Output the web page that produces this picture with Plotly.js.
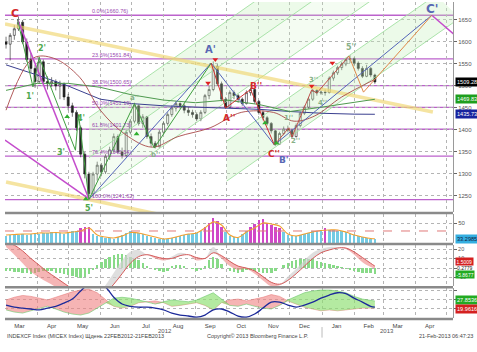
<!DOCTYPE html>
<html><head><meta charset="utf-8">
<script src="https://cdn.plot.ly/plotly-3.0.1.min.js"></script>
<style>html,body{margin:0;padding:0;background:#fff}#chart{width:477px;height:352px}</style>
</head><body><div id="chart"></div>
<script>
// ---------- price candles (every 4 days) ----------
const candleDates = ['2012-03-02','2012-03-06','2012-03-10','2012-03-14','2012-03-18','2012-03-22','2012-03-26','2012-03-30','2012-04-03','2012-04-07',
'2012-04-11','2012-04-15','2012-04-19','2012-04-23','2012-04-27','2012-05-01','2012-05-05','2012-05-09','2012-05-13','2012-05-17',
'2012-05-21','2012-05-25','2012-05-29','2012-06-02','2012-06-06','2012-06-10','2012-06-14','2012-06-18','2012-06-22','2012-06-26',
'2012-06-30','2012-07-04','2012-07-08','2012-07-12','2012-07-16','2012-07-20','2012-07-24','2012-07-28','2012-08-01','2012-08-05',
'2012-08-09','2012-08-13','2012-08-17','2012-08-21','2012-08-25','2012-08-29','2012-09-02','2012-09-06','2012-09-10','2012-09-14',
'2012-09-18','2012-09-22','2012-09-26','2012-09-30','2012-10-04','2012-10-08','2012-10-12','2012-10-16','2012-10-20','2012-10-24',
'2012-10-28','2012-11-01','2012-11-05','2012-11-09','2012-11-13','2012-11-17','2012-11-21','2012-11-25','2012-11-29','2012-12-03',
'2012-12-07','2012-12-11','2012-12-15','2012-12-19','2012-12-23','2012-12-27','2012-12-31','2013-01-04','2013-01-08','2013-01-12',
'2013-01-16','2013-01-20','2013-01-24','2013-01-28','2013-02-01','2013-02-05','2013-02-09','2013-02-13','2013-02-17','2013-02-21'];
const openP  = [1600,1595,1615,1630,1645,1600,1560,1540,1510,1555, 1510,1505,1510,1500,1505,1475,1455,1440,1405,1345,
1300,1255,1300,1320,1305,1340,1355,1385,1350,1342, 1395,1420,1455,1415,1430,1385,1370,1362,1395,1415,
1435,1450,1460,1455,1445,1440,1435,1425,1440,1478, 1492,1545,1505,1470,1452,1485,1478,1470,1460,1485,
1492,1465,1440,1428,1415,1398,1368,1392,1402,1400, 1385,1410,1438,1452,1470,1490,1484,1486,1485,1518,
1530,1542,1550,1560,1562,1552,1540,1522,1540,1525];
const highP  = [1612,1620,1638,1658,1650,1608,1575,1548,1566,1560, 1522,1520,1515,1512,1508,1482,1462,1445,1410,1350,
1305,1305,1328,1325,1345,1362,1392,1390,1360,1400, 1425,1462,1458,1436,1432,1392,1375,1400,1420,1440,
1456,1466,1463,1460,1452,1446,1440,1445,1482,1500, 1556,1550,1510,1475,1490,1490,1482,1474,1490,1496,
1494,1468,1444,1432,1418,1400,1396,1408,1410,1403, 1415,1442,1456,1474,1494,1493,1490,1492,1522,1535,
1546,1555,1563,1570,1565,1556,1545,1548,1543,1528];
const lowP   = [1585,1558,1605,1625,1595,1555,1530,1496,1505,1505, 1492,1498,1490,1470,1468,1445,1430,1398,1338,1290,
1242,1248,1285,1295,1300,1332,1348,1345,1335,1338, 1390,1415,1410,1405,1380,1362,1358,1360,1390,1410,
1430,1442,1448,1438,1432,1428,1420,1420,1436,1470, 1488,1500,1465,1448,1450,1470,1462,1455,1458,1478,
1460,1435,1422,1410,1392,1364,1366,1388,1395,1380, 1383,1406,1434,1448,1466,1478,1480,1478,1483,1512,
1525,1536,1545,1552,1545,1535,1518,1520,1520,1505];
const closeP = [1595,1615,1630,1645,1600,1560,1540,1510,1555,1510, 1505,1510,1500,1505,1475,1455,1440,1405,1345,1300,
1255,1300,1320,1305,1340,1355,1385,1350,1342,1395, 1420,1455,1415,1430,1385,1370,1362,1395,1415,1435,
1450,1460,1455,1445,1440,1435,1425,1440,1478,1492, 1545,1505,1470,1452,1485,1478,1470,1460,1485,1492,
1465,1440,1428,1415,1398,1368,1392,1402,1400,1385, 1410,1438,1452,1470,1490,1484,1486,1485,1518,1530,
1542,1550,1560,1562,1552,1540,1522,1540,1525,1509.28];

// ---------- moving averages ----------
const maDates = ['2012-03-02','2012-04-01','2012-05-01','2012-06-01','2012-07-01','2012-08-01','2012-09-01','2012-10-01','2012-11-01','2012-12-01','2013-01-01','2013-02-01','2013-02-21'];
const maNavy  = [1548,1525,1500,1470,1460,1455,1452,1450,1447,1442,1438,1436,1435.73];
const maGreen = [1490,1506,1506,1497,1480,1468,1462,1468,1458,1442,1452,1462,1469.83];
const maBrownDates = ['2012-03-02','2012-03-28','2012-04-17','2012-05-12','2012-06-01','2012-06-25','2012-07-21','2012-08-15','2012-09-15','2012-10-15','2012-11-15','2012-12-05','2012-12-25','2013-01-20','2013-02-21'];
const maBrown = [1445,1563,1563,1520,1445,1390,1361,1385,1405,1440,1440,1420,1432,1475,1515];

// ---------- Fibonacci retracement ----------
const fibNames  = ['0.0%','23.6%','38.2%','50.0%','61.8%','76.4%','100.0%'];
const fibLevels = [1660.76,1561.84,1500.65,1451.19,1401.73,1340.54,1241.62];

// ---------- trend lines (date, price pairs) ----------
const yellowUpperD = ['2012-03-01','2013-04-18'], yellowUpperV = [1641,1441];
const yellowLowerD = ['2012-03-02','2012-07-28'], yellowLowerV = [1282,1208];
const magentaCD = ['2012-03-13','2012-05-21'], magentaCV = [1652,1243];
const magentaLD = ['2012-03-01','2012-05-20'], magentaLV = [1377,1245];
const magentaPD = ['2013-04-17','2013-05-10'], magentaPV = [1660.76,1614];
const blueAD = ['2012-05-21','2012-09-16'], blueAV = [1242,1552];
const blueBD = ['2012-09-16','2012-11-16'], blueBV = [1552,1366];
const blueCD = ['2012-11-16','2013-04-17'], blueCV = [1366,1660.76];
const fork1D = [['2012-05-21','2012-11-06'],['2012-05-21','2012-12-31'],['2012-05-21','2013-02-25']];
const fork1V = [[1428,1706.8],[1337,1706.8],[1246,1706.8]];
const fork2D = [['2012-10-01','2013-04-21'],['2012-10-01','2013-05-14']];
const fork2V = [[1374.8,1706.8],[1283.9,1654.5]];

// ---------- wave paths ----------
const waveGreenD = ['2012-03-13','2012-03-28','2012-04-03','2012-05-08','2012-05-11','2012-05-21'];
const waveGreenV = [1652,1498,1565,1354,1435,1242];
const waveGreen2D = ['2012-05-21','2012-07-04','2012-07-23','2012-09-16'];
const waveGreen2V = [1242,1460,1359,1552];
const waveRedD = ['2012-09-16','2012-09-30','2012-10-24','2012-11-16'];
const waveRedV = [1552,1450,1492,1366];
const waveBrownD = ['2012-11-16','2012-11-30','2012-12-03','2012-12-22','2012-12-27','2013-01-27'];
const waveBrownV = [1366,1405,1384,1491,1484,1568];
const projD = ['2013-01-27','2013-02-10','2013-04-17'];
const projV = [1568,1486,1660.76];
const sellD = ['2012-09-13','2012-09-20','2012-12-22','2013-01-11'], sellV = [1507,1560,1500,1552];
const buyD = ['2012-04-30','2012-05-18','2012-07-06','2012-11-07','2012-11-18'], buyV = [1430,1243,1391,1416,1370];

// ---------- lower panels ----------
const rsiBars = [36,37,37.5,37,38.5,37.5,38,39,38.5,39.5, 39,40,39,39.5,38.5,40,41,42,44.5,46,
45.5,38,36,35,34.5,34,33.5,35,37,39, 41,40,39,38,36.5,35.5,34.5,33.5,33,33.5,
34.5,35,36,37,38,38.5,39.5,41.5,46,50, 55,52,46,40,36,35,34.5,38,42,46,
49,53,54,50,48,46,45,40,37,36, 36,37,38,39.5,41,42,43,44.5,43,42.5,
42,41,40,38.5,37,36,35,34,33.5,33.3];
const indDates = ['2012-03-02','2012-03-10','2012-03-18','2012-03-26','2012-04-03','2012-04-11','2012-04-19','2012-04-27','2012-05-05','2012-05-13',
'2012-05-21','2012-05-29','2012-06-06','2012-06-14','2012-06-22','2012-06-30','2012-07-08','2012-07-16','2012-07-24','2012-08-01',
'2012-08-09','2012-08-17','2012-08-25','2012-09-02','2012-09-10','2012-09-18','2012-09-26','2012-10-04','2012-10-12','2012-10-20',
'2012-10-28','2012-11-05','2012-11-13','2012-11-21','2012-11-29','2012-12-07','2012-12-15','2012-12-23','2012-12-31','2013-01-08',
'2013-01-16','2013-01-24','2013-02-01','2013-02-09','2013-02-17','2013-02-21'];
const rsiLine = [37.2,37.8,38.3,38.3,39.4,39.4,39.9,39.4,40.4,41.5,44.7,37.2,35.1,34,36.2,39.9,39.4,37.2,35.1,33,
34,36.2,38.3,39.4,44.7,51.1,47.9,37.2,34.6,40.4,44.7,50,48.9,46.8,38.3,36.2,38.3,40.4,42,42.6,42.6,40.4,37.2,35.1,33.5,33.3];
const rsiRef = 41.5;
const macdFast = [22,14,5,-4,-10,-15,-20,-26,-32,-36,-35,-28,-18,-5,8,17,19,14,10,8,
12,16,14,8,10,22,10,2,-2,-1,-6,-13,-19,-18,-9,-1,8,16,20,22,22,20,14,6,1,-0.3];
const macdSlow = [27,24,18,10,3,-4,-10,-16,-22,-28,-32,-31,-26,-17,-6,5,12,14,12,10,
10,13,14,11,10,16,13,7,2,0,-3,-9,-15,-17,-13,-6,2,10,16,19,21,21,17,11,5,2];
const macdHist = [-3,-3.5,-4,-4.5,-5,-5.5,-6,-5,-4,-3.5, -3,-3.5,-5,-5.5,-6,-7,-8,-9,-10,-9,
-6,-2,3,6,10,12,14,15,15,14, 12,10,8,5,2,0,-2,-3,-4,-3, 2,3,3,2,0,-1,-3,-2,2,8,
12,9,4,0,-3,-4,-5,-4,-2,-2, -3,-4,-5,-5,-5,-3,0,3,5,7, 8,9,10,10,9,7,6,5,4,3,
2,1,-1,-2,-3,-4,-5,-5.5,-5.5,-5.9];
const diMinus = [29,32,34,33,31,29,32,35,38,40,41,37,29,22,20,22,26,27,28,26,
22,23,24.5,26,23,18,26,29,30,28,30,32,35,33,28,24.5,21,19,17,18,17,18,19,20,20,19.96];
const diPlus = [18,15.6,14.5,17,19,22,19,15.6,13.4,12.3,14.5,20,26,31,32,31,29,27,24.5,27,
29,28,27,29,33,37,30,23,22,24.5,22,20,19,23,29,33,37,39,40,40,39,37,33,30,29,27.85];
const adx = [23.4,21,20,19,18,20,22,25.6,30,39,46.7,49,43.4,32,24.5,22,21,21,20,18,
14.5,12.3,11.2,10,12.3,18,19,15.6,11.2,10,13.4,20,26.7,26.7,23.4,21,23.4,26.7,31,34.5,37,36,31,26.7,22,21];

const monthTicks = ['2012-03-15','2012-04-15','2012-05-15','2012-06-15','2012-07-15','2012-08-15','2012-09-15','2012-10-15','2012-11-15','2012-12-15','2013-01-15','2013-02-15','2013-03-15','2013-04-15'];
const monthLabels = ['Mar','Apr','May','Jun','Jul','Aug','Sep','Oct','Nov','Dec','Jan','Feb','Mar','Apr'];

// ---------- build traces ----------
const DAY = 86400000;
const traces = [];
function line(x,y,color,width,extra){traces.push(Object.assign({type:'scatter',mode:'lines',x:x,y:y,line:{color:color,width:width},hoverinfo:'skip',xaxis:'x',yaxis:'y'},extra||{}));}

const fillCol = 'rgba(196,238,186,0.32)', forkCol = '#a2e0a2';
line(fork1D[0],fork1V[0],forkCol,0.9);
line(fork1D[1],fork1V[1],forkCol,0.9,{fill:'tonexty',fillcolor:fillCol});
line(fork1D[2],fork1V[2],forkCol,0.9,{fill:'tonexty',fillcolor:'rgba(206,242,196,0.22)'});
line(fork2D[0],fork2V[0],forkCol,0.9);
line(fork2D[1],fork2V[1],forkCol,0.9,{fill:'tonexty',fillcolor:fillCol});

line(yellowUpperD,yellowUpperV,'rgba(240,214,110,0.65)',3.6);
line(yellowLowerD,yellowLowerV,'rgba(240,214,110,0.65)',3.6);

line(maDates,maNavy,'#3a3f8f',1);
line(maDates,maGreen,'#4f9a4f',1);
line(maBrownDates,maBrown,'#a84848',0.9,{line:{color:'#a84848',width:0.9,shape:'spline'}});

line(magentaCD,magentaCV,'#c44ccc',1.5);
line(magentaLD,magentaLV,'#c44ccc',1.5);
line(magentaPD,magentaPV,'#c44ccc',1.5);
line(blueAD,blueAV,'#5464b8',1);
line(blueBD,blueBV,'#5464b8',1);
line(blueCD,blueCV,'#5464b8',1);
line(waveGreenD,waveGreenV,'#3f9f3f',1);
line(waveGreen2D,waveGreen2V,'#3f9f3f',1);
line(waveRedD,waveRedV,'#d03030',1);
line(waveBrownD,waveBrownV,'#c0504a',1);
line(projD,projV,'#e0884a',1);

traces.push({type:'candlestick',x:candleDates,open:openP,high:highP,low:lowP,close:closeP,xaxis:'x',yaxis:'y',
  increasing:{line:{color:'#222',width:0.6},fillcolor:'#ffffff'},decreasing:{line:{color:'#222',width:0.6},fillcolor:'#222'},
  whiskerwidth:0,hoverinfo:'skip'});

traces.push({type:'scatter',mode:'markers',x:sellD,y:sellV,marker:{symbol:'triangle-down',size:5,color:'#e02020'},xaxis:'x',yaxis:'y',hoverinfo:'skip'});
traces.push({type:'scatter',mode:'markers',x:buyD,y:buyV,marker:{symbol:'triangle-up',size:5,color:'#2fb02f'},xaxis:'x',yaxis:'y',hoverinfo:'skip'});

traces.push({type:'bar',x:candleDates,y:rsiBars,width:2.4*DAY,xaxis:'x',yaxis:'y2',hoverinfo:'skip',
  marker:{color:rsiBars.map(v=>v>=44?'#d048c8':'#74cbe4'),line:{width:0}}});
traces.push({type:'scatter',mode:'lines',x:indDates,y:rsiLine,line:{color:'#f0a030',width:1.1,shape:'spline'},xaxis:'x',yaxis:'y2',hoverinfo:'skip'});

const mLow = macdSlow.map((v,i)=>Math.min(v,macdFast[i]));
traces.push({type:'bar',x:candleDates,y:macdHist,width:2.4*DAY,marker:{color:'#88da88',line:{width:0}},xaxis:'x',yaxis:'y3',hoverinfo:'skip'});
traces.push({type:'scatter',mode:'lines',x:indDates,y:mLow,line:{width:0,shape:'spline'},xaxis:'x',yaxis:'y3',hoverinfo:'skip'});
traces.push({type:'scatter',mode:'lines',x:indDates,y:macdSlow,line:{width:0,shape:'spline'},fill:'tonexty',fillcolor:'rgba(236,120,120,0.55)',xaxis:'x',yaxis:'y3',hoverinfo:'skip'});
traces.push({type:'scatter',mode:'lines',x:indDates,y:mLow,line:{width:0,shape:'spline'},xaxis:'x',yaxis:'y3',hoverinfo:'skip'});
traces.push({type:'scatter',mode:'lines',x:indDates,y:macdFast,line:{width:0,shape:'spline'},fill:'tonexty',fillcolor:'rgba(210,210,210,0.7)',xaxis:'x',yaxis:'y3',hoverinfo:'skip'});
traces.push({type:'scatter',mode:'lines',x:indDates,y:macdSlow,line:{color:'#d45a5a',width:1,shape:'spline'},xaxis:'x',yaxis:'y3',hoverinfo:'skip'});

const dLow = diMinus.map((v,i)=>Math.min(v,diPlus[i]));
traces.push({type:'scatter',mode:'lines',x:indDates,y:dLow,line:{width:0},xaxis:'x',yaxis:'y4',hoverinfo:'skip'});
traces.push({type:'scatter',mode:'lines',x:indDates,y:diMinus,line:{color:'#e88080',width:0.6},fill:'tonexty',fillcolor:'rgba(240,130,130,0.6)',xaxis:'x',yaxis:'y4',hoverinfo:'skip'});
traces.push({type:'scatter',mode:'lines',x:indDates,y:dLow,line:{width:0},xaxis:'x',yaxis:'y4',hoverinfo:'skip'});
traces.push({type:'scatter',mode:'lines',x:indDates,y:diPlus,line:{color:'#6cc86c',width:0.6},fill:'tonexty',fillcolor:'rgba(140,222,110,0.65)',xaxis:'x',yaxis:'y4',hoverinfo:'skip'});
traces.push({type:'scatter',mode:'lines',x:indDates,y:adx,line:{color:'#1c2a9a',width:1.3,shape:'spline'},xaxis:'x',yaxis:'y4',hoverinfo:'skip'});

// ---------- layout ----------
const grid = {showgrid:true,gridcolor:'#b4b4b4',griddash:'dot',gridwidth:1,zeroline:false};
const yBase = Object.assign({side:'right',anchor:'x',ticks:'outside',ticklen:3,tickcolor:'#666',showline:true,linecolor:'#9a9a9a',linewidth:1,
  tickfont:{size:6,color:'#555'},fixedrange:true},grid);

const shapes = [];
fibLevels.forEach(v=>shapes.push({type:'line',xref:'paper',x0:0,x1:1,yref:'y',y0:v,y1:v,line:{color:'#bc62cc',width:1.3},layer:'between'}));
shapes.push({type:'line',xref:'paper',x0:0,x1:1,yref:'y2',y0:rsiRef,y1:rsiRef,line:{color:'#e07a7a',width:1,dash:'dash'},layer:'above'});
[0.334,0.2375,0.1025,0.003].forEach(p=>shapes.push({type:'line',xref:'paper',x0:0,x1:1,yref:'paper',y0:p,y1:p,line:{color:'#8a8a8a',width:2.5}}));
shapes.push({type:'line',xref:'x',x0:'2013-01-01',x1:'2013-01-01',yref:'paper',y0:-0.022,y1:-0.055,line:{color:'#bbb',width:1}});

const ann = [];
const fibDate = '2012-05-22';
fibLevels.forEach((v,i)=>ann.push({xref:'x',yref:'y',x:fibDate,y:v,xanchor:'left',yanchor:'bottom',yshift:-1,showarrow:false,
  text:fibNames[i]+'('+v.toFixed(2)+')',font:{size:5.5,color:'#9a48b0'}}));
function lab(t,x,y,c,s){ann.push({xref:'x',yref:'y',x:x,y:y,text:'<b>'+t+'</b>',showarrow:false,font:{size:s,color:c,family:'DejaVu Sans, Arial'}});}
const gC='#4ea84e', rC='#d42a2a', bC='#5868b4', lg='#88b088';
lab('C','2012-03-11',1664,rC,11);
lab("1'",'2012-03-25',1475,gC,8); lab("2'",'2012-04-06',1586,gC,8); lab("3'",'2012-04-24',1348,gC,8);
lab("4'",'2012-05-13',1427,gC,8); lab("5'",'2012-05-21',1222,gC,8);
lab("a''",'2012-07-04',1472,lg,7); lab("b''",'2012-07-24',1343,lg,7);
lab("A'",'2012-09-15',1584,bC,10); lab("A''",'2012-10-03',1428,rC,9); lab("B''",'2012-10-29',1501,rC,9);
lab("C''",'2012-11-16',1345,rC,9); lab("B'",'2012-11-25',1331,bC,9);
lab("1''",'2012-11-30',1428,lg,7); lab("2''",'2012-12-06',1374,lg,7); lab("3''",'2012-12-24',1514,lg,7);
lab("4''",'2013-01-01',1462,lg,7); lab("5''",'2013-01-29',1588,lg,8);
lab("C'",'2013-04-17',1674,bC,12);

function box(t,yref,y,bg,fc,fs){ann.push({xref:'paper',x:1.004,xanchor:'left',yref:yref,y:y,text:t,showarrow:false,bgcolor:bg,borderpad:fs?0.5:1,font:{size:fs||5.6,color:fc}});}
box('1509.28','y',1509.28,'#000','#fff');
box('1469.83','y',1469.83,'#1e9e1e','#fff');
box('1435.73','y',1435.73,'#17239e','#fff');
box('33.2985','y2',33.3,'#34aee0','#102040');
box('1.5009','y3',6.8,'#d42020','#fff',5);
ann.push({xref:'paper',x:1.004,xanchor:'left',yref:'y3',y:0.2,text:'0.2779',showarrow:false,font:{size:5,color:'#222'}});
box('-5.8677','y3',-6.6,'#22aa22','#fff',5);
box('27.8536','y4',28.9,'#22aa22','#fff');
box('19.9616','y4',19.4,'#d42020','#fff');

ann.push({xref:'x',yref:'paper',x:'2012-08-02',y:-0.05,text:'2012',showarrow:false,font:{size:6,color:'#555'}});
ann.push({xref:'x',yref:'paper',x:'2013-03-05',y:-0.05,text:'2013',showarrow:false,font:{size:6,color:'#555'}});
ann.push({xref:'paper',yref:'paper',x:0,xanchor:'left',y:-0.066,text:'INDEXCF Index (MICEX Index) Щдень 22FEB2012-21FEB2013',showarrow:false,font:{size:5.5,color:'#444'}});
ann.push({xref:'paper',yref:'paper',x:0.565,y:-0.066,text:'Copyright© 2013 Bloomberg Finance L.P.',showarrow:false,font:{size:5.5,color:'#444'}});
ann.push({xref:'paper',yref:'paper',x:1.05,xanchor:'right',y:-0.066,text:'21-Feb-2013 06:47:23',showarrow:false,font:{size:5.5,color:'#444'}});

const layout = {
  width:477,height:352,margin:{l:5,r:24,t:0,b:32},
  paper_bgcolor:'#fff',plot_bgcolor:'#fff',showlegend:false,bargap:0,
  font:{family:'Liberation Sans, Arial, sans-serif',size:6,color:'#444'},
  xaxis:{type:'date',range:['2012-03-01','2013-05-07 10:00'],anchor:'y4',rangeslider:{visible:false},fixedrange:true,
    tickmode:'array',tickvals:monthTicks,ticktext:monthLabels,ticks:'',ticklabelstandoff:3,tickfont:{size:6,color:'#444'},showgrid:false,zeroline:false,
    minor:{tick0:'2012-03-01',dtick:'M1',showgrid:true,gridcolor:'#b4b4b4',griddash:'dot',gridwidth:1,ticks:''}},
  yaxis:Object.assign({},yBase,{domain:[0.3375,0.99375],range:[1213.6,1690.9],tickmode:'array',tickvals:[1250,1300,1350,1400,1450,1500,1550,1600,1650]}),
  yaxis2:Object.assign({},yBase,{domain:[0.2406,0.33125],range:[28.7,59.6],tickmode:'array',tickvals:[50]}),
  yaxis3:Object.assign({},yBase,{domain:[0.10625,0.234375],range:[-18.9,24.2],tickmode:'array',tickvals:[-10,0,10,20],ticktext:['-10','','10','20'],tickfont:{size:5.5,color:'#555'}}),
  yaxis4:Object.assign({},yBase,{domain:[0.00625,0.1],range:[9,42.3],tickmode:'array',tickvals:[20,30,40],ticktext:['','','']}),
  shapes:shapes,annotations:ann
};
Plotly.newPlot('chart',traces,layout,{staticPlot:true,displayModeBar:false});
</script></body></html>
